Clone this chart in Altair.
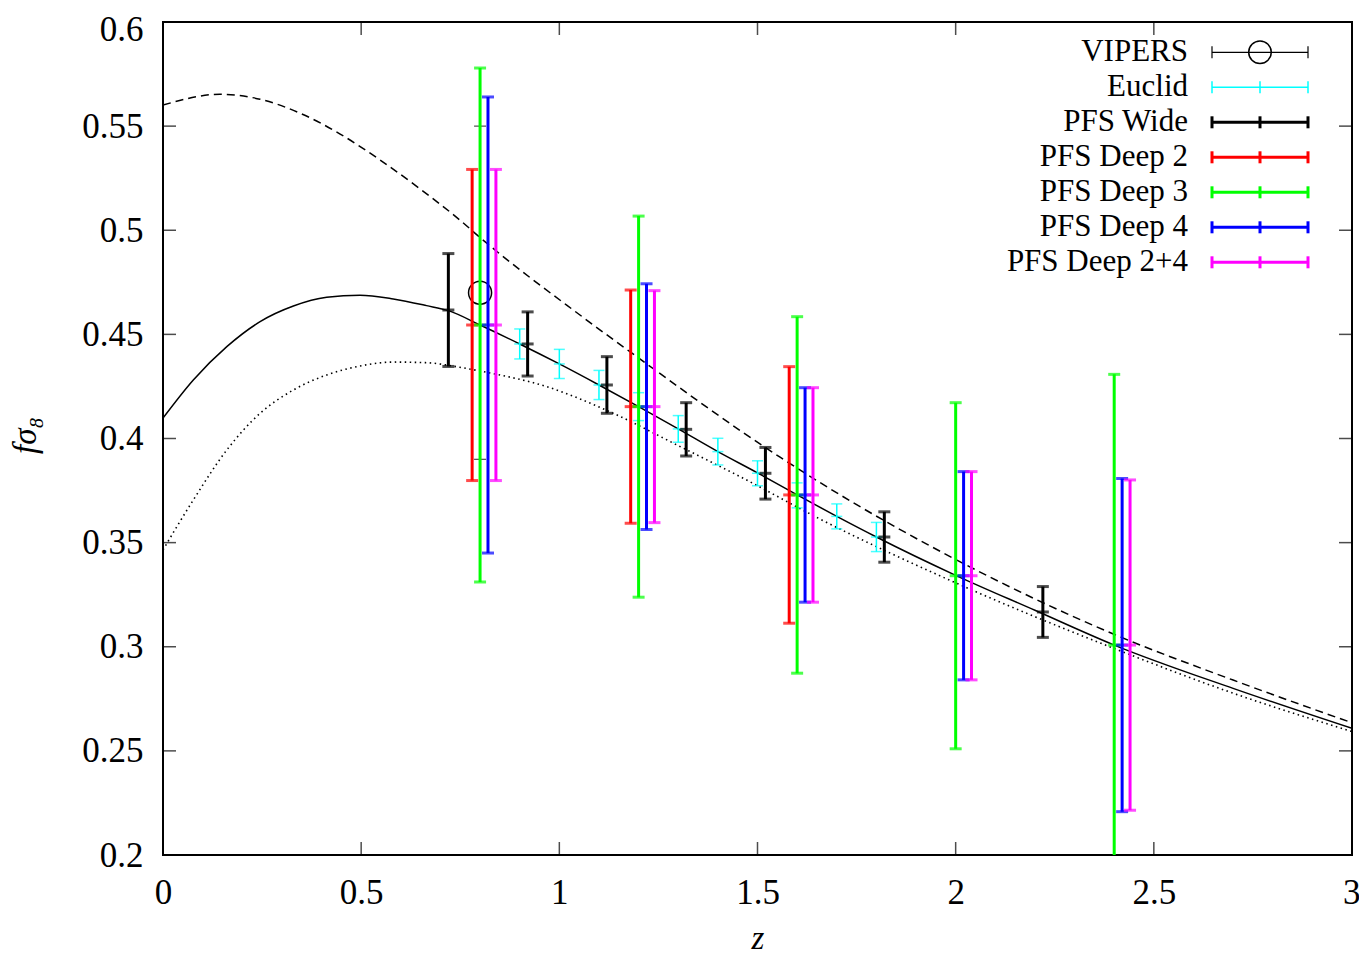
import altair as alt
import pandas as pd

# ---------------- data ----------------
# theoretical curves (solid, dashed, dotted)
solid_z = [0.0, 0.0765, 0.161, 0.245, 0.329, 0.413, 0.497, 0.581, 0.665, 0.72, 0.8, 0.9, 1.0,
           1.1, 1.2, 1.3, 1.4, 1.5, 1.6, 1.7, 1.8, 2.0, 2.2, 2.4, 2.7, 3.0]
solid_f = [0.4098, 0.4281, 0.4441, 0.4561, 0.4636, 0.4678, 0.4688, 0.4670, 0.4638, 0.4614, 0.4545,
           0.4454, 0.4358, 0.4257, 0.4153, 0.4046, 0.3937, 0.3835, 0.3729, 0.3626, 0.3527, 0.3343,
           0.3175, 0.3008, 0.2800, 0.2608]

dashed_z = [0.0, 0.144, 0.245, 0.346, 0.447, 0.548, 0.649, 0.749, 0.8, 1.052, 1.178, 1.557,
            1.658, 1.994, 2.398, 2.7, 3.0]
dashed_f = [0.5601, 0.5653, 0.5629, 0.5562, 0.5462, 0.5337, 0.5198, 0.5049, 0.4965, 0.4593,
            0.4417, 0.3910, 0.3788, 0.3425, 0.3061, 0.2840, 0.2635]

dotted_z = [0.0, 0.0765, 0.161, 0.245, 0.329, 0.413, 0.497, 0.581, 0.665, 0.749, 0.808, 0.968,
            1.136, 1.305, 1.456, 1.658, 1.994, 2.398, 2.7, 3.0]
dotted_f = [0.3465, 0.3705, 0.3945, 0.4121, 0.4233, 0.4305, 0.4348, 0.4367, 0.4364, 0.4342,
            0.4321, 0.4249, 0.4121, 0.3961, 0.3817, 0.3613, 0.3312, 0.2993, 0.2777, 0.2593]

# measurements / forecasts
vipers_z = [0.8]
vipers_f = [0.47]
vipers_err = [0.08]

euclid_z = [0.9, 1.0, 1.1, 1.2, 1.3, 1.4, 1.5, 1.6, 1.7, 1.8]
euclid_f = [0.4454, 0.4358, 0.4257, 0.4153, 0.4046, 0.3937, 0.3833, 0.3727, 0.3626, 0.3527]
euclid_err = [0.0072, 0.0070, 0.0070, 0.0067, 0.0064, 0.0064, 0.0060, 0.0060, 0.0060, 0.0070]

wide_z = [0.72, 0.92, 1.12, 1.32, 1.52, 1.82, 2.22]
wide_f = [0.4617, 0.4454, 0.4257, 0.4044, 0.3833, 0.3527, 0.3167]
wide_err = [0.0271, 0.0154, 0.0136, 0.0128, 0.0124, 0.0121, 0.0122]

deep2_z = [0.78, 1.18, 1.58]
deep2_f = [0.4545, 0.4153, 0.3729]
deep2_err = [0.0747, 0.0560, 0.0616]

deep3_z = [0.80, 1.20, 1.60, 2.00, 2.40]
deep3_f = [0.4545, 0.4153, 0.3729, 0.3341, 0.3008]
deep3_err = [0.1234, 0.0915, 0.0856, 0.0831, 0.1300]

deep4_z = [0.82, 1.22, 1.62, 2.02, 2.42]
deep4_f = [0.4545, 0.4153, 0.3729, 0.3341, 0.3008]
deep4_err = [0.1095, 0.0590, 0.0515, 0.0500, 0.0800]

deep24_z = [0.84, 1.24, 1.64, 2.04, 2.44]
deep24_f = [0.4545, 0.4153, 0.3729, 0.3341, 0.3008]
deep24_err = [0.0747, 0.0557, 0.0515, 0.0500, 0.0793]

series_names = ["VIPERS", "Euclid", "PFS Wide", "PFS Deep 2", "PFS Deep 3", "PFS Deep 4", "PFS Deep 2+4"]
series_colors = ["#000000", "#00ffff", "#000000", "#ff0000", "#00ff00", "#0000ff", "#ff00ff"]

x_ticks = [0, 0.5, 1, 1.5, 2, 2.5, 3]
y_ticks = [0.2, 0.25, 0.3, 0.35, 0.4, 0.45, 0.5, 0.55, 0.6]

# ---------------- styling ----------------
FONT = "Liberation Serif"
W, H = 1189, 833


def bars(name, z, f, err):
    return pd.DataFrame({
        "series": name, "z": z, "f": f,
        "lo": [a - b for a, b in zip(f, err)],
        "hi": [a + b for a, b in zip(f, err)],
    })


xscale = alt.Scale(domain=[0, 3], nice=False, zero=False)
yscale = alt.Scale(domain=[0.2, 0.6], nice=False, zero=False)
xaxis = alt.Axis(values=x_ticks, format="~g", title="z", grid=False, domain=False, ticks=False,
                 tickSize=0, labelFont=FONT, labelFontSize=35, labelPadding=20, labelColor="black",
                 labelFlush=False,
                 labelAlign=alt.expr("datum.value >= 2.99 ? 'right' : 'center'"),
                 labelOffset=alt.expr("datum.value >= 2.99 ? 8 : 0"),
                 titleFont=FONT, titleFontSize=33, titleFontStyle="italic",
                 titleFontWeight="normal", titleColor="black", titleY=93,
                 titleBaseline="alphabetic")
yaxis = alt.Axis(values=y_ticks, format=".2~f", title="fσ₈", grid=False, domain=False, ticks=False,
                 tickSize=0, labelFont=FONT, labelFontSize=35, labelPadding=20, labelColor="black",
                 labelFlush=False,
                 labelBaseline=alt.expr("datum.value >= 0.599 ? 'top' : 'middle'"),
                 labelOffset=alt.expr("datum.value >= 0.599 ? -10 : 0"),
                 titleFont=FONT, titleFontSize=33, titleFontStyle="italic",
                 titleFontWeight="normal", titleColor="black", titleAngle=270, titleX=-128,
                 titleY=413, titleAlign="center", titleBaseline="alphabetic")


def X(field):
    return alt.X(field, type="quantitative", scale=xscale, axis=xaxis)


def Y(field):
    return alt.Y(field, type="quantitative", scale=yscale, axis=yaxis)


color_enc = alt.Color("series:N", scale=alt.Scale(domain=series_names, range=series_colors), legend=None)

# ---------------- curves ----------------
solid = alt.Chart(pd.DataFrame({"z": solid_z, "f": solid_f})).mark_line(
    color="black", strokeWidth=1.5, interpolate="monotone", clip=True).encode(x=X("z"), y=Y("f"))
dashed = alt.Chart(pd.DataFrame({"z": dashed_z, "f": dashed_f})).mark_line(
    color="black", strokeWidth=1.5, strokeDash=[8, 5], interpolate="monotone", clip=True).encode(
    x=X("z"), y=Y("f"))
dotted = alt.Chart(pd.DataFrame({"z": dotted_z, "f": dotted_f})).mark_line(
    color="black", strokeWidth=1.6, strokeDash=[1.5, 3.5], interpolate="monotone", clip=True).encode(
    x=X("z"), y=Y("f"))

# ---------------- error bars ----------------
vip = bars("VIPERS", vipers_z, vipers_f, vipers_err)
euc = bars("Euclid", euclid_z, euclid_f, euclid_err)
thick = pd.concat([
    bars("PFS Wide", wide_z, wide_f, wide_err),
    bars("PFS Deep 2", deep2_z, deep2_f, deep2_err),
    bars("PFS Deep 3", deep3_z, deep3_f, deep3_err),
    bars("PFS Deep 4", deep4_z, deep4_f, deep4_err),
    bars("PFS Deep 2+4", deep24_z, deep24_f, deep24_err),
], ignore_index=True)


def errbar_layers(df, lw, capw, centre=True):
    rule = alt.Chart(df).mark_rule(strokeWidth=lw, clip=True).encode(
        x=X("z"), y=Y("lo"), y2="hi:Q", color=color_enc)
    cols = ["lo", "hi", "f"] if centre else ["lo", "hi"]
    caps = alt.Chart(df).transform_fold(cols, as_=["kind", "yv"]).mark_tick(
        orient="horizontal", size=capw, thickness=lw, clip=True).encode(
        x=X("z"), y=Y("yv"), color=color_enc)
    return [rule, caps]


vip_layers = errbar_layers(vip, 1.2, 12, centre=False)
vip_circle = alt.Chart(vip).mark_point(shape="circle", size=530, filled=False, color="black",
                                       strokeWidth=1.5, opacity=1).encode(x=X("z"), y=Y("f"))
euc_layers = errbar_layers(euc, 1.5, 11)
thick_layers = errbar_layers(thick, 3, 12)

# ---------------- inward frame ticks ----------------
xt = pd.DataFrame({"v": x_ticks})
yt = pd.DataFrame({"v": y_ticks})
bottom_ticks = alt.Chart(xt).mark_tick(orient="vertical", size=13, thickness=1.5, color="black",
                                       yOffset=-6.5).encode(x=X("v"), y=alt.datum(0.2))
top_ticks = alt.Chart(xt).mark_tick(orient="vertical", size=13, thickness=1.5, color="black",
                                    yOffset=6.5).encode(x=X("v"), y=alt.datum(0.6))
left_ticks = alt.Chart(yt).mark_tick(orient="horizontal", size=13, thickness=1.5, color="black",
                                     xOffset=6.5).encode(x=alt.datum(0), y=Y("v"))
right_ticks = alt.Chart(yt).mark_tick(orient="horizontal", size=13, thickness=1.5, color="black",
                                      xOffset=-6.5).encode(x=alt.datum(3), y=Y("v"))

# ---------------- legend (gnuplot style, inside top right) ----------------
leg_lw = [1.2, 1.5, 3, 3, 3, 3, 3]
leg = pd.DataFrame({"label": series_names, "color": series_colors, "row": list(range(7)), "lw": leg_lw})
leg_base = alt.Chart(leg).transform_calculate(ypix="30.3 + datum.row * 35")
LX_TEXT, LX0, LX1 = 1025, 1049, 1145
LXM = (LX0 + LX1) / 2
ypix = alt.Y("ypix:Q", scale=None, axis=None)

leg_text = leg_base.mark_text(align="right", baseline="middle", font=FONT, fontSize=31,
                              color="black").encode(x=alt.value(LX_TEXT), y=ypix, text="label:N")
leg_line = leg_base.mark_rule().encode(
    x=alt.value(LX0), x2=alt.value(LX1), y=ypix,
    color=alt.Color("color:N", scale=None),
    strokeWidth=alt.StrokeWidth("lw:Q", scale=None))
leg_caps = leg_base.transform_calculate(
    y0="datum.ypix - 6", y1="datum.ypix + 6").transform_fold(
    ["a", "b", "c"], as_=["k", "dummy"]).transform_filter(
    "!(datum.label == 'VIPERS' && datum.k == 'c')").transform_calculate(
    cx=f"datum.k == 'a' ? {LX0} : (datum.k == 'b' ? {LX1} : {LXM})").mark_rule().encode(
    x=alt.X("cx:Q", scale=None, axis=None),
    y=alt.Y("y0:Q", scale=None, axis=None), y2="y1:Q",
    color=alt.Color("color:N", scale=None),
    strokeWidth=alt.StrokeWidth("lw:Q", scale=None))
leg_circle = leg_base.transform_filter("datum.label == 'VIPERS'").mark_point(
    shape="circle", size=510, filled=False, color="black", strokeWidth=1.5, opacity=1).encode(
    x=alt.value(LXM), y=ypix)

chart = alt.layer(
    solid, dashed, dotted,
    *vip_layers, vip_circle,
    *euc_layers,
    *thick_layers,
    bottom_ticks, top_ticks, left_ticks, right_ticks,
    leg_line, leg_caps, leg_circle, leg_text,
).properties(
    width=W, height=H,
    autosize=alt.AutoSizeParams(type="none"),
    padding={"left": 155, "top": 14, "right": 7, "bottom": 99},
    background="white",
).configure_view(stroke="black", strokeWidth=2)

chart.save("out.html", embed_options={"renderer": "svg", "actions": False})
